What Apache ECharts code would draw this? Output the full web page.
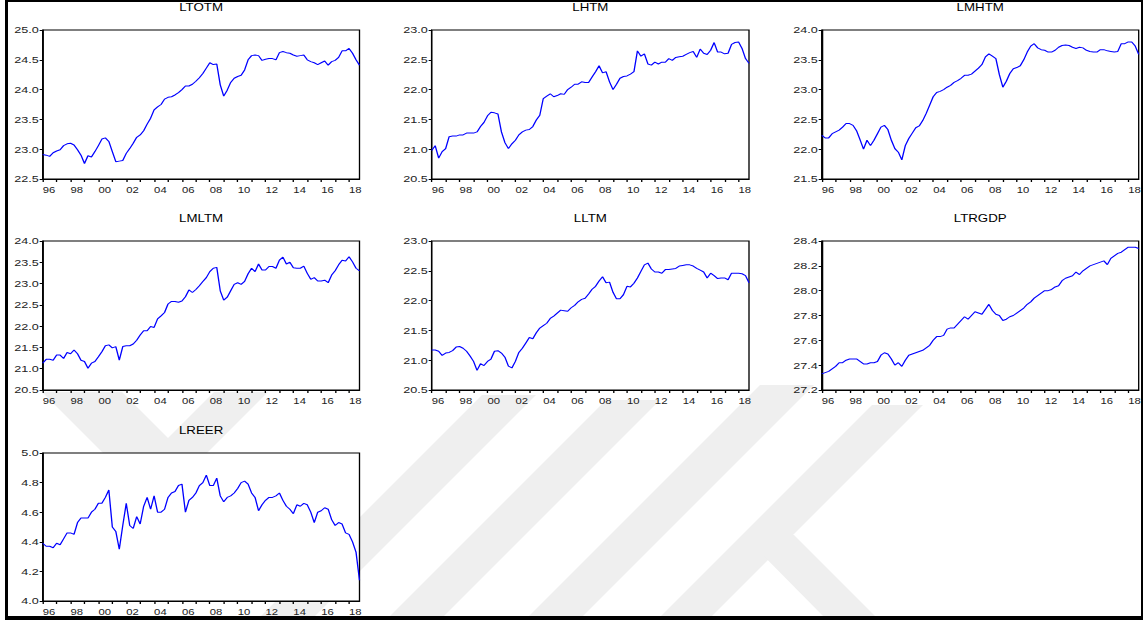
<!DOCTYPE html>
<html lang="en">

<head>
    <meta charset="UTF-8">
    <title>Quarterly series</title>
    <script src="https://cdnjs.cloudflare.com/ajax/libs/echarts/6.0.0/echarts.min.js"></script>
    <style>
        body { margin: 0; background: #fff; overflow: hidden; }
        #mark { position: absolute; left: 0; top: 0; }
        #main { position: absolute; left: 0; top: 0; width: 860px; height: 620px; transform-origin: 0 0; }
        #frame { position: absolute; left: 5px; top: 0; width: 1138px; height: 620px; box-sizing: border-box;
                 border-left: 3px solid #000; border-top: 2px solid #000; border-right: 2px solid #000; border-bottom: 4px solid #000; }
    </style>
</head>

<body>
    <!-- faint watermark behind the page, stripes at 45 degrees -->
    <svg id="mark" width="1143" height="620">
        <g fill="#efefef">
            <polygon points="42,392 122,392 200,470 120,470" />
            <polygon points="214,392 268,392 190,470 136,470" />
            <polygon points="482,395 536,395 315,616 261,616" />
            <polygon points="606,400 660,400 444,616 390,616" />
            <polygon points="760,385 814,385 583,616 529,616" />
            <polygon points="872,405 923,405 712,616 661,616" />
            <polygon points="743,535 794,535 875,616 823,616" />
        </g>
    </svg>
    <div id="main"></div>
    <div id="frame"></div>

    <script>
        const years = [1996, 1997, 1998, 1999, 2000, 2001, 2002, 2003, 2004, 2005, 2006, 2007,
            2008, 2009, 2010, 2011, 2012, 2013, 2014, 2015, 2016, 2017, 2018];
        const quarters = years.flatMap(y => [y + 'Q1', y + 'Q2', y + 'Q3', y + 'Q4']);

        const titles = ['LTOTM', 'LHTM', 'LMHTM', 'LMLTM', 'LLTM', 'LTRGDP', 'LREER'];

        const ltotm = [22.91, 22.90, 22.88, 22.94, 22.97, 22.99, 23.06, 23.09, 23.10, 23.07, 22.99, 22.90,
            22.76, 22.89, 22.87, 22.96, 23.06, 23.17, 23.19, 23.13, 22.96, 22.79, 22.80, 22.81,
            22.93, 23.01, 23.10, 23.20, 23.24, 23.31, 23.42, 23.52, 23.66, 23.71, 23.75, 23.84,
            23.87, 23.88, 23.91, 23.95, 24.00, 24.06, 24.06, 24.09, 24.14, 24.20, 24.27, 24.36,
            24.45, 24.42, 24.43, 24.08, 23.89, 23.99, 24.12, 24.19, 24.22, 24.24, 24.33, 24.50,
            24.57, 24.58, 24.57, 24.49, 24.51, 24.52, 24.52, 24.50, 24.62, 24.64, 24.62, 24.61,
            24.58, 24.56, 24.57, 24.58, 24.50, 24.47, 24.45, 24.42, 24.45, 24.48, 24.41, 24.47,
            24.49, 24.54, 24.65, 24.65, 24.69, 24.61, 24.50, 24.41];

        const lhtm = [20.98, 21.06, 20.85, 20.96, 21.01, 21.21, 21.22, 21.22, 21.24, 21.24, 21.27, 21.27,
            21.27, 21.29, 21.38, 21.45, 21.56, 21.62, 21.61, 21.59, 21.29, 21.11, 21.01, 21.09,
            21.15, 21.24, 21.29, 21.32, 21.33, 21.38, 21.49, 21.57, 21.85, 21.89, 21.93, 21.88,
            21.90, 21.93, 21.92, 22.00, 22.04, 22.09, 22.09, 22.13, 22.12, 22.12, 22.21, 22.30,
            22.40, 22.28, 22.30, 22.13, 22.00, 22.09, 22.19, 22.22, 22.23, 22.26, 22.30, 22.65,
            22.56, 22.60, 22.43, 22.41, 22.46, 22.43, 22.46, 22.46, 22.52, 22.49, 22.54, 22.55,
            22.56, 22.59, 22.62, 22.64, 22.54, 22.68, 22.61, 22.59, 22.66, 22.79, 22.63, 22.63,
            22.60, 22.61, 22.76, 22.79, 22.80, 22.69, 22.52, 22.44];

        const lmhtm = [22.23, 22.19, 22.19, 22.26, 22.29, 22.32, 22.37, 22.43, 22.43, 22.40, 22.31, 22.16,
            22.00, 22.15, 22.06, 22.15, 22.26, 22.37, 22.40, 22.33, 22.15, 22.01, 21.95, 21.82,
            22.06, 22.18, 22.27, 22.36, 22.39, 22.48, 22.60, 22.74, 22.88, 22.95, 22.97, 23.00,
            23.04, 23.07, 23.12, 23.15, 23.19, 23.24, 23.24, 23.26, 23.31, 23.36, 23.42, 23.55,
            23.60, 23.56, 23.52, 23.25, 23.04, 23.14, 23.27, 23.35, 23.37, 23.40, 23.50, 23.63,
            23.73, 23.77, 23.70, 23.67, 23.66, 23.63, 23.63, 23.66, 23.71, 23.74, 23.75, 23.74,
            23.71, 23.69, 23.71, 23.70, 23.66, 23.64, 23.63, 23.63, 23.67, 23.67, 23.65, 23.64,
            23.63, 23.64, 23.77, 23.77, 23.80, 23.80, 23.73, 23.59];

        const lmltm = [21.13, 21.22, 21.22, 21.20, 21.32, 21.32, 21.24, 21.38, 21.35, 21.44, 21.35, 21.20,
            21.17, 21.01, 21.13, 21.17, 21.28, 21.40, 21.54, 21.56, 21.49, 21.52, 21.20, 21.52,
            21.54, 21.54, 21.58, 21.67, 21.79, 21.89, 21.89, 21.99, 21.97, 22.17, 22.24, 22.32,
            22.52, 22.58, 22.58, 22.56, 22.59, 22.69, 22.85, 22.79, 22.86, 22.95, 23.05, 23.14,
            23.28, 23.36, 23.38, 22.83, 22.61, 22.68, 22.83, 22.98, 23.02, 22.98, 23.05, 23.23,
            23.36, 23.28, 23.46, 23.32, 23.32, 23.40, 23.40, 23.36, 23.55, 23.62, 23.46, 23.50,
            23.37, 23.36, 23.36, 23.41, 23.24, 23.10, 23.14, 23.06, 23.06, 23.08, 23.02, 23.20,
            23.30, 23.44, 23.55, 23.53, 23.63, 23.51, 23.36, 23.30];

        const lltm = [21.17, 21.17, 21.15, 21.08, 21.12, 21.13, 21.16, 21.22, 21.23, 21.20, 21.15, 21.07,
            20.98, 20.83, 20.94, 20.91, 20.98, 21.02, 21.15, 21.16, 21.12, 21.05, 20.90, 20.87,
            20.98, 21.13, 21.20, 21.29, 21.38, 21.36, 21.46, 21.54, 21.58, 21.62, 21.70, 21.74,
            21.79, 21.84, 21.83, 21.82, 21.88, 21.92, 21.98, 22.02, 22.04, 22.11, 22.19, 22.24,
            22.33, 22.40, 22.30, 22.31, 22.14, 22.03, 22.03, 22.10, 22.24, 22.23, 22.29, 22.38,
            22.49, 22.60, 22.63, 22.53, 22.48, 22.48, 22.46, 22.52, 22.52, 22.53, 22.54, 22.58,
            22.59, 22.60, 22.60, 22.58, 22.54, 22.51, 22.48, 22.38, 22.46, 22.42, 22.37, 22.38,
            22.38, 22.35, 22.46, 22.46, 22.46, 22.45, 22.42, 22.30];

        const ltrgdp = [27.33, 27.34, 27.35, 27.37, 27.39, 27.42, 27.42, 27.44, 27.45, 27.45, 27.45, 27.43,
            27.41, 27.41, 27.42, 27.42, 27.43, 27.48, 27.50, 27.49, 27.45, 27.40, 27.42, 27.39,
            27.44, 27.48, 27.49, 27.50, 27.51, 27.52, 27.54, 27.56, 27.60, 27.63, 27.63, 27.64,
            27.69, 27.70, 27.70, 27.73, 27.76, 27.79, 27.77, 27.80, 27.83, 27.82, 27.81, 27.85,
            27.89, 27.84, 27.81, 27.80, 27.76, 27.77, 27.79, 27.80, 27.82, 27.84, 27.86, 27.89,
            27.91, 27.94, 27.96, 27.98, 28.00, 28.00, 28.01, 28.03, 28.04, 28.08, 28.10, 28.11,
            28.12, 28.15, 28.13, 28.16, 28.18, 28.20, 28.21, 28.22, 28.23, 28.24, 28.21, 28.26,
            28.28, 28.30, 28.31, 28.33, 28.35, 28.35, 28.35, 28.34];

        const lreer = [4.39, 4.37, 4.37, 4.36, 4.39, 4.38, 4.42, 4.46, 4.46, 4.45, 4.53, 4.56,
            4.56, 4.56, 4.60, 4.62, 4.66, 4.66, 4.70, 4.75, 4.50, 4.47, 4.35, 4.51,
            4.66, 4.51, 4.49, 4.57, 4.52, 4.64, 4.70, 4.62, 4.71, 4.60, 4.60, 4.62,
            4.70, 4.73, 4.74, 4.78, 4.79, 4.60, 4.68, 4.70, 4.73, 4.78, 4.80, 4.85,
            4.78, 4.78, 4.83, 4.71, 4.67, 4.70, 4.71, 4.73, 4.76, 4.80, 4.81, 4.79,
            4.73, 4.70, 4.61, 4.65, 4.68, 4.70, 4.70, 4.71, 4.73, 4.68, 4.64, 4.62,
            4.59, 4.65, 4.64, 4.66, 4.65, 4.60, 4.53, 4.60, 4.61, 4.63, 4.62, 4.55,
            4.51, 4.53, 4.52, 4.46, 4.45, 4.40, 4.33, 4.14];

        const seriesData = [ltotm, lhtm, lmhtm, lmltm, lltm, ltrgdp, lreer];
        const yMin = [22.5, 20.5, 21.5, 20.5, 20.5, 27.2, 4.0];
        const yMax = [25.0, 23.0, 24.0, 24.0, 23.0, 28.4, 5.0];
        const yStep = [0.5, 0.5, 0.5, 0.5, 0.5, 0.2, 0.2];

        // the picture is stretched sideways, so draw narrow and scale the box
        const SX = 1.33;
        const W = 1143 / SX;
        const box = document.getElementById('main');
        box.style.width = W + 'px';
        box.style.transform = 'scaleX(' + SX + ')';

        const colX = [[42.7, 359.5], [431.7, 749], [821.7, 1138.7]];
        const rowY = [[30, 179], [241, 390], [453, 601]];
        const font = "'Liberation Sans', Arial, sans-serif";

        const grids = [], xAxes = [], yAxes = [], series = [], titleList = [];
        seriesData.forEach((data, i) => {
            const c = colX[i % 3], r = rowY[Math.floor(i / 3)];
            grids.push({
                left: c[0] / SX, width: (c[1] - c[0]) / SX, top: r[0], height: r[1] - r[0],
                show: true, backgroundColor: '#fff', borderColor: '#000', borderWidth: 1,
                containLabel: false, outerBoundsMode: 'none'
            });
            titleList.push({
                text: titles[i], left: (c[0] + c[1]) / 2 / SX, top: r[0] - 27.5, textAlign: 'center', padding: 0,
                textStyle: { fontFamily: font, fontSize: 10, fontWeight: 'normal', color: '#000' }
            });
            xAxes.push({
                type: 'category', gridIndex: i, data: quarters, boundaryGap: false,
                axisLine: { lineStyle: { color: '#000', width: 1 } },
                axisTick: { interval: 3, length: 3, lineStyle: { color: '#000' } },
                axisLabel: {
                    interval: 7, align: 'left', margin: 7, fontSize: 8.5, fontFamily: font, color: '#222',
                    formatter: v => v.slice(2, 4)
                },
                splitLine: { show: false }
            });
            yAxes.push({
                type: 'value', gridIndex: i, min: yMin[i], max: yMax[i], interval: yStep[i],
                axisLine: { show: true, lineStyle: { color: '#000', width: 1 } },
                axisTick: { show: true, length: 2.3, lineStyle: { color: '#000' } },
                axisLabel: { margin: 3, fontSize: 9.5, fontFamily: font, color: '#222', formatter: v => v.toFixed(1) },
                splitLine: { show: false }
            });
            series.push({
                type: 'line', xAxisIndex: i, yAxisIndex: i, data: data, showSymbol: false,
                lineStyle: { color: '#0000ff', width: 1 }, animation: false
            });
        });

        const myChart = echarts.init(box, null, { renderer: 'svg' });
        myChart.setOption({
            animation: false,
            backgroundColor: 'transparent',
            title: titleList,
            grid: grids,
            xAxis: xAxes,
            yAxis: yAxes,
            series: series
        });
    </script>
</body>

</html>
